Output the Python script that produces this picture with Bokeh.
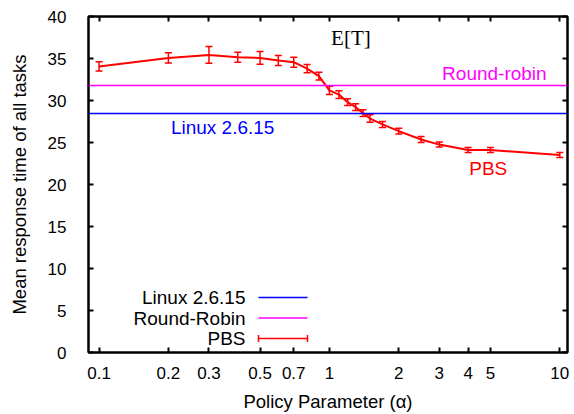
from bokeh.plotting import figure
from bokeh.models import (ColumnDataSource, Whisker, TeeHead, Span, Label, LogAxis,
                          LinearAxis, FixedTicker, BoxAnnotation, Range1d)
from bokeh.embed import file_html
from bokeh.resources import INLINE

# ---- data ----
alpha = [0.1, 0.2, 0.3, 0.4, 0.5, 0.6, 0.7, 0.8, 0.9, 1.0, 1.1, 1.2, 1.3, 1.4, 1.5,
         1.7, 2.0, 2.5, 3.0, 4.0, 5.0, 10.0]
pbs_mean = [34.05, 35.07, 35.43, 35.15, 35.07, 34.76, 34.56, 33.8, 32.9, 31.2, 30.7,
            29.8, 29.2, 28.5, 27.85, 27.15, 26.35, 25.35, 24.75, 24.1, 24.1, 23.5]
pbs_err = [0.55, 0.6, 1.0, 0.6, 0.75, 0.6, 0.6, 0.5, 0.45, 0.5, 0.45, 0.4, 0.4, 0.4,
           0.45, 0.35, 0.35, 0.35, 0.3, 0.3, 0.3, 0.3]
linux_value = 28.45
rr_value = 31.8
xtick_values = [0.1, 0.2, 0.3, 0.5, 0.7, 1, 2, 3, 4, 5, 10]
xtick_labels = ["0.1", "0.2", "0.3", "0.5", "0.7", "1", "2", "3", "4", "5", "10"]
ytick_values = [0, 5, 10, 15, 20, 25, 30, 35, 40]

FONT = "Liberation Sans"
FS = "17px"
FS_LAB = "19px"
FS_AX = "18.5px"

src = ColumnDataSource(dict(
    x=alpha, y=pbs_mean,
    upper=[m + e for m, e in zip(pbs_mean, pbs_err)],
    lower=[m - e for m, e in zip(pbs_mean, pbs_err)],
))

p = figure(width=574, height=414, x_axis_type="log",
           x_range=Range1d(0.09, 10.8), y_range=Range1d(0, 40),
           output_backend="svg", toolbar_location=None,
           min_border_left=88, min_border_right=7, min_border_top=16, min_border_bottom=61)
p.background_fill_color = "white"
p.border_fill_color = "white"
p.grid.visible = False
p.outline_line_color = "black"
p.outline_line_width = 2

# axes
xa = p.xaxis[0]
xa.ticker = FixedTicker(ticks=xtick_values)
xa.major_label_overrides = {v: l for v, l in zip(xtick_values, xtick_labels)}
xa.axis_label = "Policy Parameter (α)"
ya = p.yaxis[0]
ya.ticker = FixedTicker(ticks=ytick_values)
ya.axis_label = "Mean response time of all tasks"

for ax in (xa, ya):
    ax.minor_tick_line_color = None
    ax.major_tick_in = 5
    ax.major_tick_out = 0
    ax.major_tick_line_width = 2
    ax.axis_line_width = 2
    ax.major_label_text_font = FONT
    ax.major_label_text_font_size = FS
    ax.major_label_text_color = "black"
    ax.axis_label_text_font = FONT
    ax.axis_label_text_font_size = FS_AX
    ax.axis_label_text_font_style = "normal"
    ax.axis_label_text_color = "black"
xa.major_label_standoff = 14
xa.axis_label_standoff = 9
ya.major_label_standoff = 22
ya.axis_label_standoff = 15

top = LogAxis(ticker=FixedTicker(ticks=xtick_values), major_label_text_font_size="0px",
              major_tick_in=5, major_tick_out=0, major_tick_line_width=2,
              minor_tick_line_color=None, axis_line_width=2, major_label_standoff=0)
right = LinearAxis(ticker=FixedTicker(ticks=ytick_values), major_label_text_font_size="0px",
                   major_tick_in=5, major_tick_out=0, major_tick_line_width=2,
                   minor_tick_line_color=None, axis_line_width=2, major_label_standoff=0)
p.add_layout(top, "above")
p.add_layout(right, "right")

# reference lines
p.add_layout(Span(location=rr_value, dimension="width", line_color="#ff00ff", line_width=1.5))
p.add_layout(Span(location=linux_value, dimension="width", line_color="#0000ff", line_width=1.5))

# PBS
p.line("x", "y", source=src, line_color="#ff0000", line_width=2)
p.add_layout(Whisker(source=src, base="x", upper="upper", lower="lower",
                     line_color="#ff0000", line_width=1.5,
                     upper_head=TeeHead(size=7, line_color="#ff0000", line_width=1.5),
                     lower_head=TeeHead(size=7, line_color="#ff0000", line_width=1.5)))

# in-plot labels
p.add_layout(Label(x=5.2, y=33.2, text="Round-robin", text_color="#ff00ff",
                   text_font=FONT, text_font_size=FS_LAB, text_align="center", text_baseline="middle"))
p.add_layout(Label(x=0.344, y=26.8, text="Linux 2.6.15", text_color="#0000ff",
                   text_font=FONT, text_font_size=FS_LAB, text_align="center", text_baseline="middle"))
p.add_layout(Label(x=4.89, y=21.95, text="PBS", text_color="#ff0000",
                   text_font=FONT, text_font_size=FS_LAB, text_align="center", text_baseline="middle"))
p.add_layout(Label(x=1.24, y=37.4, text="E[T]", text_color="black",
                   text_font="Liberation Serif", text_font_size="21px",
                   text_align="center", text_baseline="middle"))

# manual legend (text right-aligned, sample on right), screen units relative to frame
legend_items = [("Linux 2.6.15", "#0000ff", False),
                ("Round-Robin", "#ff00ff", False),
                ("PBS", "#ff0000", True)]
for i, (name, col, caps) in enumerate(legend_items):
    yy = 55 - i * 20.5
    p.add_layout(Label(x=157, y=yy, x_units="screen", y_units="screen", text=name,
                       text_font=FONT, text_font_size=FS_LAB, text_color="black",
                       text_align="right", text_baseline="middle"))
    p.add_layout(BoxAnnotation(left=170, right=219, bottom=yy - 0.75, top=yy + 0.75,
                               left_units="screen", right_units="screen",
                               bottom_units="screen", top_units="screen",
                               fill_color=col, fill_alpha=1, line_color=None))
    if caps:
        for cx in (170, 219):
            p.add_layout(BoxAnnotation(left=cx - 0.75, right=cx + 0.75, bottom=yy - 3.5, top=yy + 3.5,
                                       left_units="screen", right_units="screen",
                                       bottom_units="screen", top_units="screen",
                                       fill_color=col, fill_alpha=1, line_color=None))

open("out.html", "w").write(file_html(p, INLINE))
